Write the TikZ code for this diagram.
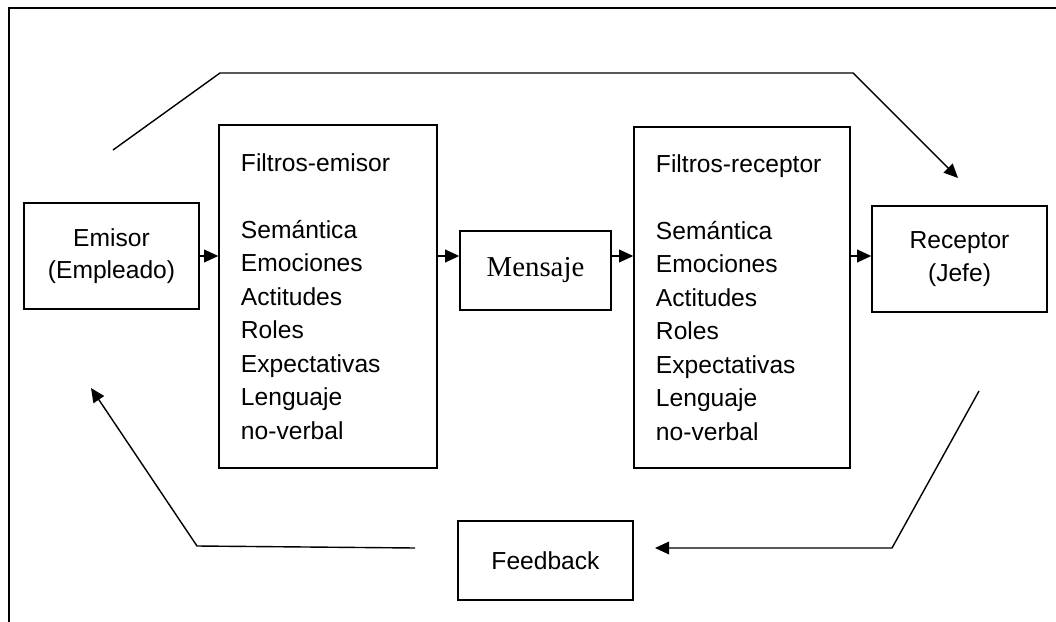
\documentclass[tikz,border=0pt]{standalone}
\usepackage{fontspec}
\setmainfont{Liberation Sans}
\newfontfamily\msgfont{Liberation Serif}
\usetikzlibrary{arrows.meta}

\begin{document}
\begin{tikzpicture}[
        x=0.025cm, y=-0.025cm,
        box/.style={rectangle, draw=black, line width=1pt, align=center, inner sep=0pt, font=\fontsize{17.5}{23}\selectfont},
        filterbox/.style={box, align=left, text width=4.35cm, inner xsep=0.55cm, font=\fontsize{17.5}{23.8}\selectfont},
        arrow/.style={-{Triangle[length=10pt, width=9pt]}, line width=1pt}
    ]
        \useasboundingbox (0,0) rectangle (1056,622);
        % frame
        \draw[line width=1.3pt] (9,640) -- (9,8) -- (1070,8);

        \node[box, minimum width=4.375cm, minimum height=2.65cm] (emisor) at (111.5,256) {Emisor\\(Empleado)};
        \node[filterbox, minimum height=8.575cm] (filtrosE) at (328,296.5) {Filtros-emisor\\[23.8pt]Semántica\\Emociones\\Actitudes\\Roles\\Expectativas\\Lenguaje\\no-verbal};
        \node[box, minimum width=3.775cm, minimum height=1.975cm, font=\msgfont\fontsize{20.5}{24}\selectfont] (mensaje) at (535.5,270.5) {Mensaje};
        \node[filterbox, text width=4.3cm, minimum height=8.525cm] (filtrosR) at (742,297.5) {Filtros-receptor\\[23.8pt]Semántica\\Emociones\\Actitudes\\Roles\\Expectativas\\Lenguaje\\no-verbal};
        \node[box, minimum width=4.375cm, minimum height=2.65cm] (receptor) at (959.5,259) {Receptor\\(Jefe)};
        \node[box, minimum width=4.375cm, minimum height=1.975cm] (feedback) at (545.5,560.5) {Feedback};

        \draw[arrow] (emisor.east) -- (emisor.east -| filtrosE.west);
        \draw[arrow] (filtrosE.east |- emisor.east) -- (mensaje.west |- emisor.east);
        \draw[arrow] (mensaje.east |- emisor.east) -- (filtrosR.west |- emisor.east);
        \draw[arrow] (filtrosR.east |- emisor.east) -- (receptor.west |- emisor.east);

        % loop over the top
        \coordinate (topA) at (113,150);
        \coordinate (topB) at (220,73);
        \coordinate (topC) at (853,73);
        \coordinate (topD) at (958,178);
        \draw[arrow] (topA) -- (topB) -- (topC) -- (topD);

        % feedback loop
        \coordinate (fbA) at (979,391);
        \coordinate (fbB) at (892,548);
        \coordinate (fbC) at (655,548);
        \draw[arrow] (fbA) -- (fbB) -- (fbC);
        \coordinate (fbD) at (415,548);
        \coordinate (fbE) at (197,546);
        \coordinate (fbF) at (91,388);
        \draw[arrow] (fbD) -- (fbE) -- (fbF);
    \end{tikzpicture}
\end{document}
